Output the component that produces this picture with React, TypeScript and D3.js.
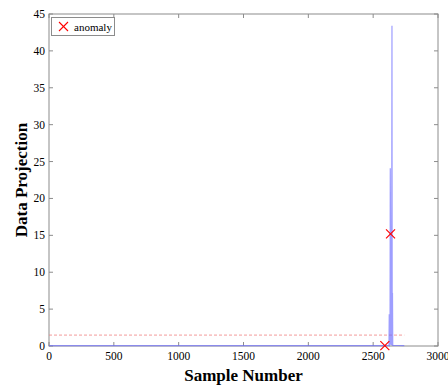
import React from "react";
import * as d3 from "d3";

const sampleIdx = [0, 2600, 2622, 2624, 2626, 2630, 2632, 2634, 2636, 2642, 2645, 2647, 2649, 2651, 2740];
const projValues = [0.05, 0.05, 0.1, 4.3, 0.1, 0.2, 24.1, 15.2, 0.3, 0.2, 43.4, 0.5, 7.2, 0.1, 0.05];
const anomalyIdx = [2590, 2634];
const anomalyValues = [0.05, 15.2];
const thresholdValue = 1.48;
const thresholdRange = [0, 2740];
const xTicks = [0, 500, 1000, 1500, 2000, 2500, 3000];
const yTicks = [0, 5, 10, 15, 20, 25, 30, 35, 40, 45];

function Cross({ cx, cy, r }: { cx: number; cy: number; r: number }) {
  return (
    <>
      <line x1={cx - r} x2={cx + r} y1={cy - r} y2={cy + r} stroke="#ff0000" strokeWidth={1.1} />
      <line x1={cx - r} x2={cx + r} y1={cy + r} y2={cy - r} stroke="#ff0000" strokeWidth={1.1} />
    </>
  );
}

export default function App() {
  const W = 448, H = 385;
  const L = 49, R = 438, T = 14, B = 346;
  const x = d3.scaleLinear().domain([0, 3000]).range([L, R]);
  const y = d3.scaleLinear().domain([0, 45]).range([B, T]);
  const pts = sampleIdx.map((s, i) => [s, projValues[i]] as [number, number]);
  const line = d3.line<[number, number]>().x(d => x(d[0])).y(d => y(d[1]))(pts) || "";
  const axisColor = "#8c8c8c";
  const font = "'Liberation Serif', 'Times New Roman', serif";
  const tk = 4;
  return (
    <svg width={W} height={H} style={{ display: "block", position: "absolute", left: 0, top: 0 }} fontFamily={font}>
      <rect x={0} y={0} width={W} height={H} fill="#fff" />
      <rect x={L} y={T} width={R - L} height={B - T} fill="#fff" stroke={axisColor} strokeWidth={1} />
      {xTicks.map(t => (
        <g key={"x" + t}>
          <line x1={x(t)} x2={x(t)} y1={B} y2={B - tk} stroke={axisColor} />
          <line x1={x(t)} x2={x(t)} y1={T} y2={T + tk} stroke={axisColor} />
          <text x={x(t)} y={B + 14} fontSize={11.5} textAnchor="middle" fill="#000">{t}</text>
        </g>
      ))}
      {yTicks.map(t => (
        <g key={"y" + t}>
          <line x1={L} x2={L + tk} y1={y(t)} y2={y(t)} stroke={axisColor} />
          <line x1={R} x2={R - tk} y1={y(t)} y2={y(t)} stroke={axisColor} />
          <text x={L - 4} y={y(t) + 4} fontSize={11.5} textAnchor="end" fill="#000">{t}</text>
        </g>
      ))}
      <line x1={x(thresholdRange[0])} x2={x(thresholdRange[1])} y1={y(thresholdValue)} y2={y(thresholdValue)}
        stroke="#f08080" strokeWidth={0.8} strokeDasharray="3,2" />
      <path d={line} fill="none" stroke="#6a6aff" strokeOpacity={0.65} strokeWidth={1.2} />
      {anomalyIdx.map((s, i) => (
        <Cross key={"a" + i} cx={x(s)} cy={y(anomalyValues[i])} r={4.5} />
      ))}
      <rect x={51.5} y={17.5} width={63} height={18} fill="#fff" stroke={axisColor} />
      <Cross cx={63.5} cy={26.5} r={4.5} />
      <text x={74} y={30.5} fontSize={11} fill="#000">anomaly</text>
      <text x={(L + R) / 2} y={381} fontSize={17} fontWeight="bold" textAnchor="middle" fill="#000">Sample Number</text>
      <text transform={`translate(27,${(T + B) / 2}) rotate(-90)`} fontSize={17} fontWeight="bold" textAnchor="middle" fill="#000">Data Projection</text>
    </svg>
  );
}
